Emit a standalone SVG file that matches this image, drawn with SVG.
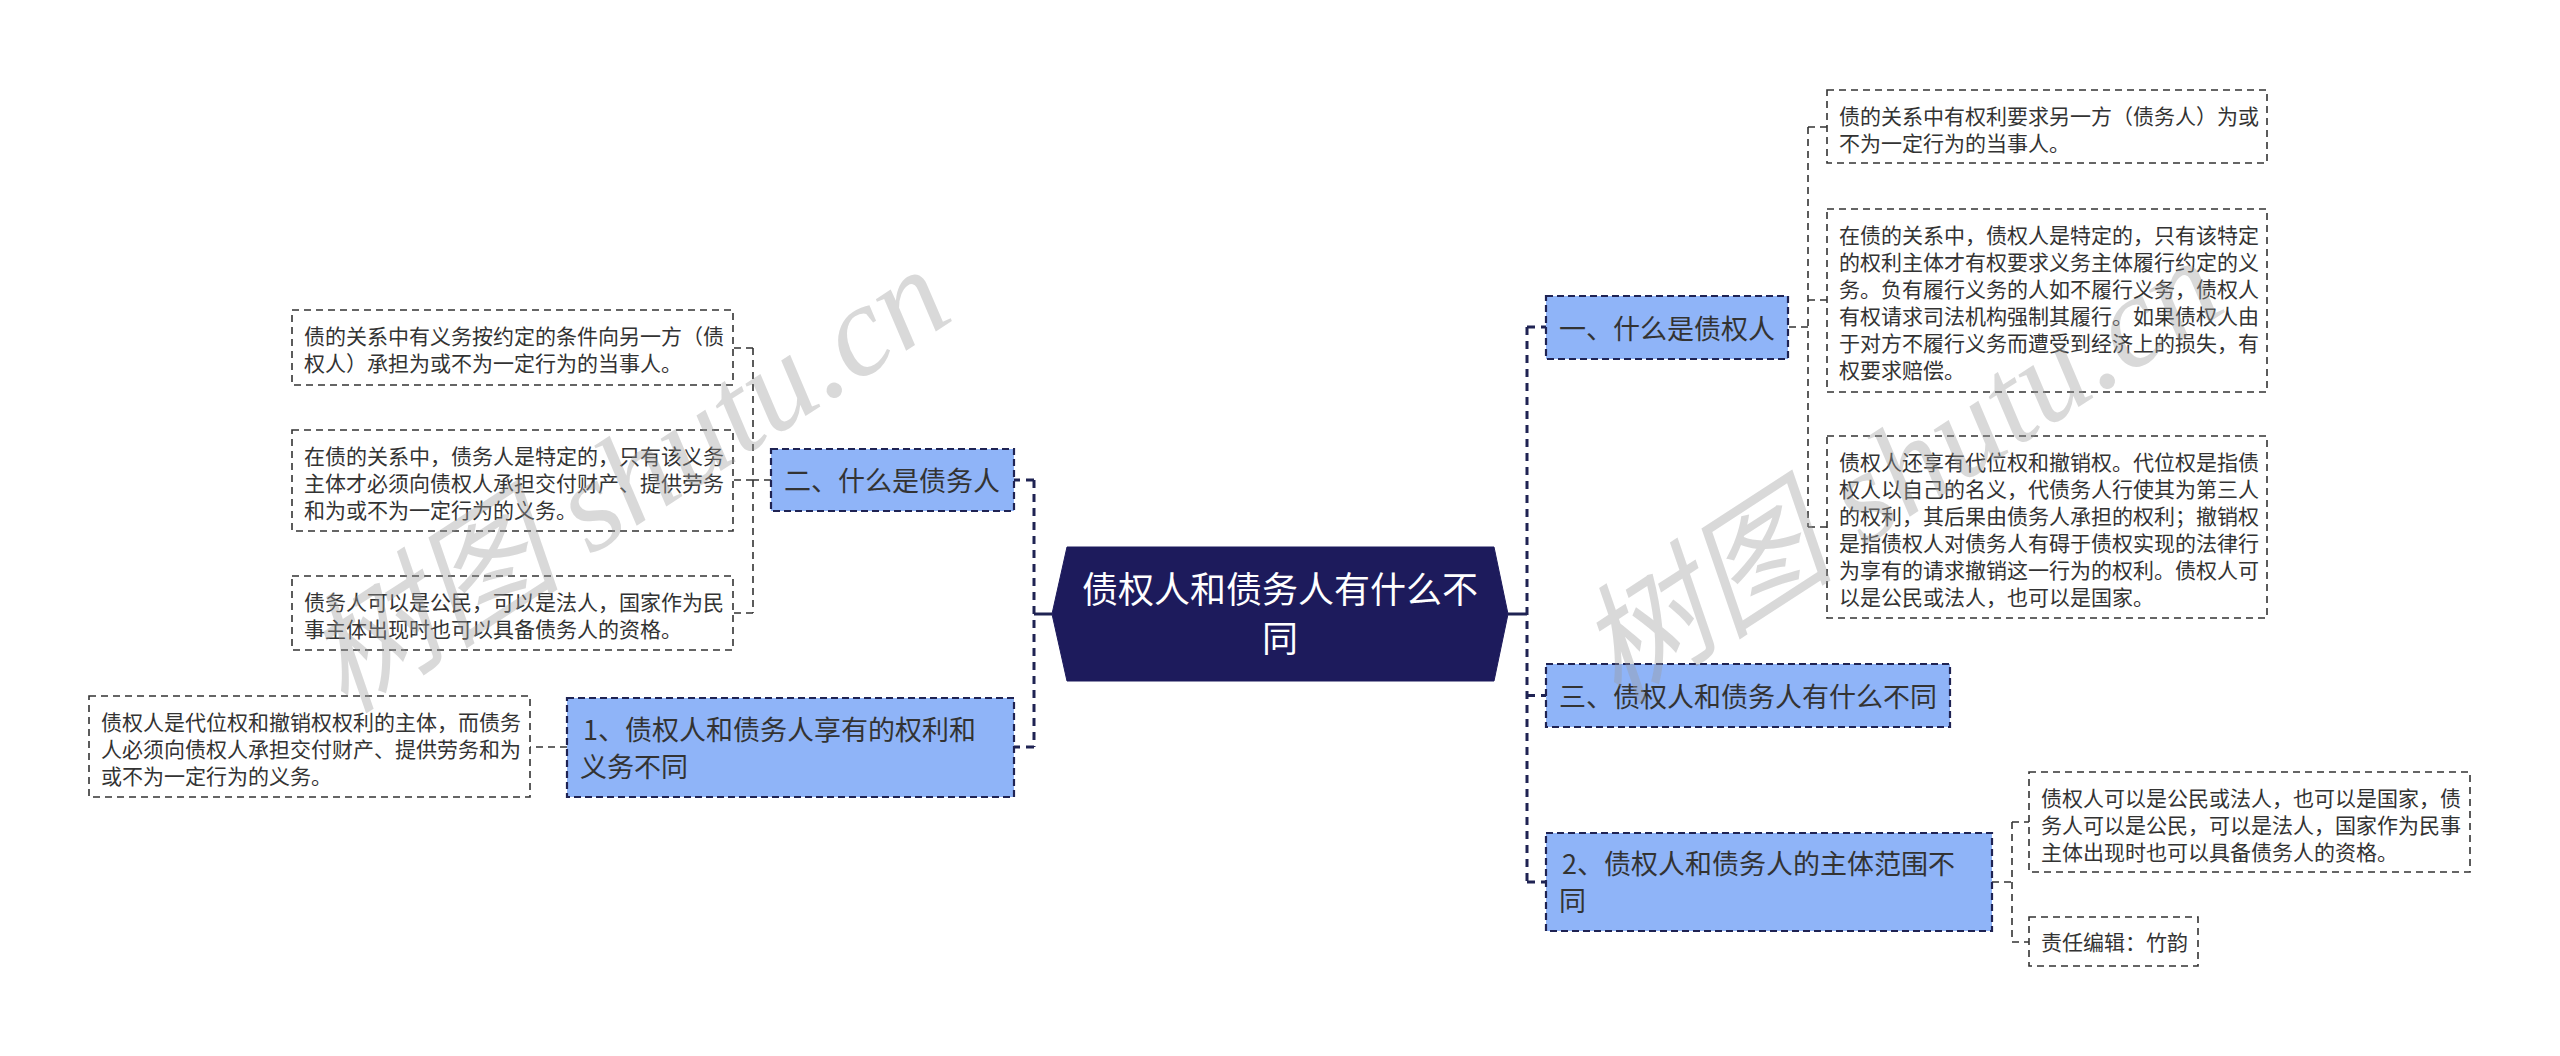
<svg xmlns="http://www.w3.org/2000/svg" width="2560" height="1056" viewBox="0 0 2560 1056">
<style>
  text { font-family: "Noto Sans CJK SC", "Microsoft YaHei", sans-serif; }
  .leaf rect { fill: #ffffff; stroke: #333333; stroke-width: 1.6; stroke-dasharray: 7 5; }
  .leaf text { font-size: 21px; fill: #333333; }
  .topic rect { fill: #8fb4f8; stroke: #1f2353; stroke-width: 2.2; stroke-dasharray: 7 4; }
  .topic text { font-size: 27px; fill: #333333; }
  .root polygon { fill: #1d1b5c; stroke: #1d1b5c; stroke-width: 1; }
  .root text { font-size: 36px; fill: #ffffff; text-anchor: middle; }
  .main { fill: none; stroke: #1f2353; stroke-width: 3; stroke-dasharray: 8 6; }
  .solid { fill: none; stroke: #1f2353; stroke-width: 3; }
  .sub { fill: none; stroke: #333333; stroke-width: 1.6; stroke-dasharray: 7 5; }
  .wm { font-family: "Liberation Serif", "Noto Sans CJK SC", serif; font-style: italic; font-size: 130px; fill: #9a9a9a; fill-opacity: 0.38; }
</style>

<g id="connectors">
  <path class="solid" d="M1508,614 H1527"/>
  <path class="main" d="M1527,327 V882 M1527,327 H1546 M1527,695.5 H1546 M1527,882 H1546"/>
  <path class="solid" d="M1052,614 H1034"/>
  <path class="main" d="M1034,480 V747 M1034,480 H1014 M1034,747 H1014"/>
  <path class="sub" d="M1789,327 H1808 M1808,127 V527 M1808,127 H1827 M1808,300 H1827 M1808,527 H1827"/>
  <path class="sub" d="M1992,882 H2012 M2012,822 V942 M2012,822 H2029 M2012,942 H2029"/>
  <path class="sub" d="M771,480 H753 M753,348 V613 M753,348 H733 M753,480 H733 M753,613 H733"/>
  <path class="sub" d="M567,747 H530"/>
</g>

<g id="root" class="root">
  <polygon points="1067,547 1494,547 1508,614 1494,681 1067,681 1052,614"/>
  <text x="1280" y="603">债权人和债务人有什么不</text>
  <text x="1280" y="652">同</text>
</g>

<g id="topic-1" class="topic">
  <rect x="1546" y="296" width="242" height="63"/>
  <text x="1559" y="339">一、什么是债权人</text>
</g>
<g id="topic-3" class="topic">
  <rect x="1546" y="664" width="404" height="63"/>
  <text x="1559" y="707">三、债权人和债务人有什么不同</text>
</g>
<g id="topic-r2" class="topic">
  <rect x="1546" y="833" width="446" height="98"/>
  <text x="1562" y="874">2、债权人和债务人的主体范围不</text>
  <text x="1559" y="911">同</text>
</g>
<g id="topic-2" class="topic">
  <rect x="771" y="449" width="243" height="62"/>
  <text x="784" y="491">二、什么是债务人</text>
</g>
<g id="topic-l1" class="topic">
  <rect x="567" y="698" width="447" height="99"/>
  <text x="583" y="740">1、债权人和债务人享有的权利和</text>
  <text x="580" y="777">义务不同</text>
</g>

<g id="leaf-r1" class="leaf">
  <rect x="1827" y="90" width="440" height="73"/>
  <text x="1839" y="124">债的关系中有权利要求另一方（债务人）为或</text>
  <text x="1839" y="151">不为一定行为的当事人。</text>
</g>
<g id="leaf-r2" class="leaf">
  <rect x="1827" y="209" width="440" height="183"/>
  <text x="1839" y="243">在债的关系中，债权人是特定的，只有该特定</text>
  <text x="1839" y="270">的权利主体才有权要求义务主体履行约定的义</text>
  <text x="1839" y="297">务。负有履行义务的人如不履行义务，债权人</text>
  <text x="1839" y="324">有权请求司法机构强制其履行。如果债权人由</text>
  <text x="1839" y="351">于对方不履行义务而遭受到经济上的损失，有</text>
  <text x="1839" y="378">权要求赔偿。</text>
</g>
<g id="leaf-r3" class="leaf">
  <rect x="1827" y="436" width="440" height="182"/>
  <text x="1839" y="470">债权人还享有代位权和撤销权。代位权是指债</text>
  <text x="1839" y="497">权人以自己的名义，代债务人行使其为第三人</text>
  <text x="1839" y="524">的权利，其后果由债务人承担的权利；撤销权</text>
  <text x="1839" y="551">是指债权人对债务人有碍于债权实现的法律行</text>
  <text x="1839" y="578">为享有的请求撤销这一行为的权利。债权人可</text>
  <text x="1839" y="605">以是公民或法人，也可以是国家。</text>
</g>
<g id="leaf-r4" class="leaf">
  <rect x="2029" y="772" width="441" height="100"/>
  <text x="2041" y="806">债权人可以是公民或法人，也可以是国家，债</text>
  <text x="2041" y="833">务人可以是公民，可以是法人，国家作为民事</text>
  <text x="2041" y="860">主体出现时也可以具备债务人的资格。</text>
</g>
<g id="leaf-r5" class="leaf">
  <rect x="2029" y="917" width="169" height="49"/>
  <text x="2041" y="950">责任编辑：竹韵</text>
</g>
<g id="leaf-l1" class="leaf">
  <rect x="292" y="310" width="441" height="75"/>
  <text x="304" y="344">债的关系中有义务按约定的条件向另一方（债</text>
  <text x="304" y="371">权人）承担为或不为一定行为的当事人。</text>
</g>
<g id="leaf-l2" class="leaf">
  <rect x="292" y="430" width="441" height="101"/>
  <text x="304" y="464">在债的关系中，债务人是特定的，只有该义务</text>
  <text x="304" y="491">主体才必须向债权人承担交付财产、提供劳务</text>
  <text x="304" y="518">和为或不为一定行为的义务。</text>
</g>
<g id="leaf-l3" class="leaf">
  <rect x="292" y="576" width="441" height="74"/>
  <text x="304" y="610">债务人可以是公民，可以是法人，国家作为民</text>
  <text x="304" y="637">事主体出现时也可以具备债务人的资格。</text>
</g>
<g id="leaf-l4" class="leaf">
  <rect x="89" y="696" width="441" height="101"/>
  <text x="101" y="730">债权人是代位权和撤销权权利的主体，而债务</text>
  <text x="101" y="757">人必须向债权人承担交付财产、提供劳务和为</text>
  <text x="101" y="784">或不为一定行为的义务。</text>
</g>

<g id="watermark">
  <text class="wm" x="345" y="715" transform="rotate(-33 345 715)">树图 shutu.cn</text>
  <text class="wm" x="1618" y="706" transform="rotate(-33 1618 706)">树图 shutu.cn</text>
</g>
</svg>
